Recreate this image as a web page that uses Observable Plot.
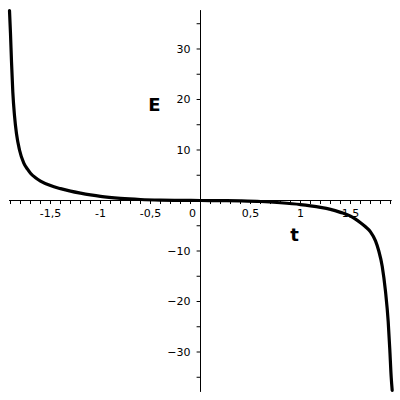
<!DOCTYPE html>
<html><head><meta charset="utf-8">
<script src="https://cdn.jsdelivr.net/npm/d3@7"></script>
<script src="https://cdn.jsdelivr.net/npm/@observablehq/plot@0.6"></script>
<style>body{margin:0;background:#fff}</style>
</head><body><div id="chart"></div>
<script>
// Curve samples (t, E)
const tValues = [-1.91,-1.90,-1.89,-1.877,-1.86,-1.84,-1.81,-1.767,-1.73,-1.70,-1.65,-1.60,-1.50,-1.40,-1.30,-1.20,-1.10,-1.00,-0.80,-0.60,-0.40,-0.20,0,0.20,0.40,0.60,0.80,1.00,1.10,1.20,1.30,1.40,1.50,1.55,1.60,1.65,1.70,1.75,1.783,1.817,1.85,1.877,1.893,1.907,1.917];
const eValues = [37.6,33.0,27.5,21.5,16.8,13.2,10.0,7.4,6.2,5.4,4.5,3.85,2.95,2.35,1.85,1.45,1.1,0.8,0.42,0.2,0.08,0.02,0,-0.02,-0.08,-0.2,-0.45,-0.8,-1.05,-1.35,-1.75,-2.35,-3.1,-3.7,-4.4,-5.2,-6.2,-8.0,-10.0,-13.0,-18.0,-24.0,-29.5,-35,-37.6];

// Axes
const xExtent = [-1.91, 1.917];
const yExtent = [-38, 37.6];
const xMinorTicks = [-1.9,-1.8,-1.7,-1.6,-1.5,-1.4,-1.3,-1.2,-1.1,-1.0,-0.9,-0.8,-0.7,-0.6,-0.5,-0.4,-0.3,-0.2,-0.1,0.1,0.2,0.3,0.4,0.5,0.6,0.7,0.8,0.9,1.0,1.1,1.2,1.3,1.4,1.5,1.6,1.7,1.8,1.9];
const xLabelValues = [-1.5,-1,-0.5,0.5,1,1.5];
const xLabelTexts = ["-1,5","-1","-0,5","0,5","1","1,5"];
const yTicks = [-35,-30,-25,-20,-15,-10,-5,5,10,15,20,25,30,35];
const yLabelValues = [-30,-20,-10,10,20,30];
const yLabelTexts = ["\u221230","\u221220","\u221210","10","20","30"];
const xTitle = "t";
const yTitle = "E";

const data = tValues.map((t, i) => ({t, E: eValues[i]}));

const chart = Plot.plot({
  width: 400,
  height: 400,
  margin: 0,
  x: {domain: [-2, 2], axis: null},
  y: {domain: [-39.6, 39.6], axis: null},
  style: {fontFamily: "DejaVu Sans", fontSize: "11px", background: "#fff", color: "#000"},
  marks: [
    Plot.ruleY([0], {x1: xExtent[0], x2: xExtent[1], stroke: "#000", strokeWidth: 1}),
    Plot.ruleX([0], {y1: yExtent[0], y2: yExtent[1], stroke: "#000", strokeWidth: 1}),
    Plot.ruleX(xMinorTicks, {x: d => d, y1: 0, y2: -0.8, stroke: "#000"}),
    Plot.ruleY(yTicks, {y: d => d, x1: -0.034, x2: 0, stroke: "#000"}),
    Plot.text(xLabelValues, {x: d => d, y: 0, dy: 13, text: (d, i) => xLabelTexts[i], fill: "#000"}),
    Plot.text(["0"], {x: 0, y: 0, dx: -8, dy: 13, text: d => d, fill: "#000"}),
    Plot.text(yLabelValues, {x: 0, y: d => d, dx: -10, textAnchor: "end", text: (d, i) => yLabelTexts[i], fill: "#000"}),
    Plot.line(data, {x: "t", y: "E", curve: "monotone-x", stroke: "#000", strokeWidth: 3.2, strokeLinejoin: "round"}),
    Plot.text([yTitle], {x: -0.46, y: 18.8, text: d => d, fontSize: 18, fontWeight: "bold", fill: "#000"}),
    Plot.text([xTitle], {x: 0.94, y: -6.9, text: d => d, fontSize: 18, fontWeight: "bold", fill: "#000"})
  ]
});
document.getElementById("chart").appendChild(chart);
</script>
</body></html>
